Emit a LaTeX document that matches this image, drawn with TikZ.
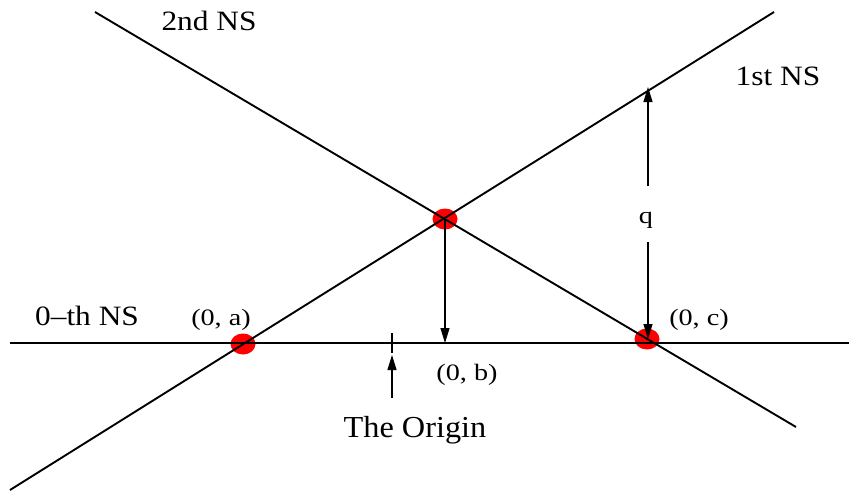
\documentclass[tikz,border=0pt]{standalone}
\usepackage{fontspec}
\usetikzlibrary{arrows.meta,shapes.geometric}
\newfontfamily\bigfam[FakeStretch=1.12]{Liberation Serif}
\newfontfamily\smallfam[FakeStretch=1.2]{Liberation Serif}
\newfontfamily\orifam[FakeStretch=1.06]{Liberation Serif}
\tikzset{
  nsline/.style={line width=1.9pt},
  arr/.style={line width=1.2pt,-{Triangle[length=15pt,width=9pt]}},
  thin/.style={line width=1.2pt},
  dot/.style={ellipse,fill=red,draw=none,minimum width=25pt,minimum height=21pt,inner sep=0pt},
  biglab/.style={anchor=base,inner sep=0pt,font=\bigfam\fontsize{28}{32}\selectfont},
  smalllab/.style={anchor=base,inner sep=0pt,font=\smallfam\fontsize{23.5}{27}\selectfont},
  orilab/.style={anchor=base,inner sep=0pt,font=\orifam\fontsize{30.5}{34}\selectfont}
}
\begin{document}
\begin{tikzpicture}[x=1pt,y=-1pt]
\useasboundingbox (0,0) rectangle (849,493);
% dots
\node[dot] (pa) at (243,344) {};
\node[dot] (pm) at (445,219) {};
\node[dot] (pc) at (647,339) {};
% line end points
\coordinate (h1) at (10,343);
\coordinate (h2) at (849,343);
\coordinate (f1) at (10,490);
\coordinate (f2) at (774,12);
\coordinate (s1) at (95,12);
\coordinate (s2) at (796,427);
\coordinate (b) at (445,343);
\coordinate (qtop) at (648,87);
\coordinate (qa) at (648,186);
\coordinate (qb) at (648,242);
\coordinate (cc) at (648,339);
\coordinate (t1) at (392,333);
\coordinate (t2) at (392,353);
\coordinate (o1) at (392,398);
\coordinate (o2) at (392,355);
% lines
\draw[nsline] (h1) -- (h2);
\draw[nsline] (f1) -- (f2);
\draw[nsline] (s1) -- (s2);
% arrows
\draw[arr] (pm.center) -- (b);
\draw[arr] (qa) -- (qtop);
\draw[arr] (qb) -- (cc);
\draw[thin] (t1) -- (t2);
\draw[arr] (o1) -- (o2);
% labels
\node[biglab] (l2) at (209,30) {2nd NS};
\node[biglab] (l1) at (778,85) {1st NS};
\node[biglab] (l0) at (87,325) {0\textendash th NS};
\node[smalllab] (la) at (221,325) {(0, a)};
\node[smalllab] (lb) at (467,380) {(0, b)};
\node[smalllab] (lc) at (699,325) {(0, c)};
\node[smalllab] (lq) at (646,223) {q};
\node[orilab] (lo) at (415,437) {The Origin};
\end{tikzpicture}
\end{document}
